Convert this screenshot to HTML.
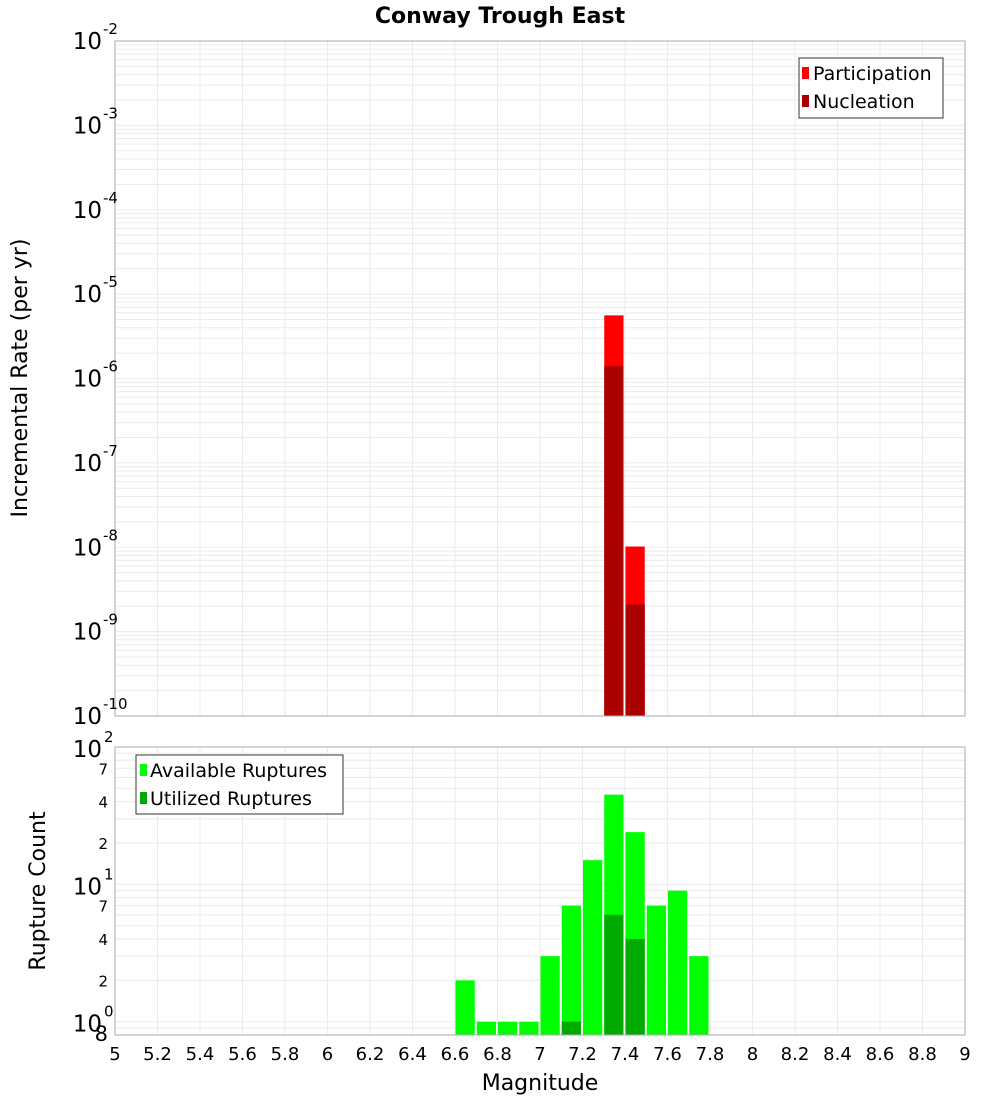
<!DOCTYPE html>
<html><head><meta charset="utf-8"><style>
body{margin:0;background:#fff;}
svg{display:block;font-family:"DejaVu Sans","Liberation Sans",sans-serif;}
</style></head><body>
<svg id="chart" width="1000" height="1100" xmlns="http://www.w3.org/2000/svg">
<text x="500" y="23" text-anchor="middle" font-size="22" font-weight="bold">Conway Trough East</text>
<text transform="translate(27,378) rotate(-90)" text-anchor="middle" font-size="22">Incremental Rate (per yr)</text>
<text transform="translate(45,891) rotate(-90)" text-anchor="middle" font-size="22">Rupture Count</text>
<text x="540" y="1090" text-anchor="middle" font-size="22">Magnitude</text>
<g id="grid"></g><g id="bars"></g><g id="axes"></g>
<g>
<rect x="799" y="58" width="144" height="60" fill="#fff" stroke="#333"/>
<rect x="802" y="67" width="7" height="12" fill="#ff0000"/>
<text x="813" y="80" font-size="19">Participation</text>
<rect x="802" y="95" width="7" height="12" fill="#aa0000"/>
<text x="813" y="108" font-size="19">Nucleation</text>
</g>
<g>
<rect x="136" y="755" width="207" height="59" fill="#fff" stroke="#333"/>
<rect x="140" y="764" width="7" height="12" fill="#00ff00"/>
<text x="150" y="777" font-size="19">Available Ruptures</text>
<rect x="140" y="792" width="7" height="12" fill="#00aa00"/>
<text x="150" y="805" font-size="19">Utilized Ruptures</text>
</g>
</svg>
<script>
const xTicks=[5,5.2,5.4,5.6,5.8,6,6.2,6.4,6.6,6.8,7,7.2,7.4,7.6,7.8,8,8.2,8.4,8.6,8.8,9];
const rateMags=[7.3,7.4];
const participation=[5.6e-6,1.02e-8];
const nucleation=[1.4e-6,2.1e-9];
const countMags=[6.6,6.7,6.8,6.9,7.0,7.1,7.2,7.3,7.4,7.5,7.6,7.7];
const available=[2,1,1,1,3,7,15,45,24,7,9,3];
const utilized=[0,0,0,0,0,1,0,6,4,0,0,0];
const topExps=[-2,-3,-4,-5,-6,-7,-8,-9,-10];
const botExps=[2,1,0];
const botMinor=[7,4,2];

const NS="http://www.w3.org/2000/svg";
const L=115,R=965,T1=41,B1=716,T2=747,B2=1035;
const xs=m=>L+(m-5)/4*(R-L);
const y1=v=>T1+(-2-Math.log10(v))/8*(B1-T1);
const yb=v=>T2+(2-Math.log10(v))/(2-Math.log10(0.8))*(B2-T2);
function mk(p,tag,a,txt){const e=document.createElementNS(NS,tag);for(const k in a)e.setAttribute(k,a[k]);if(txt!==undefined)e.textContent=txt;p.appendChild(e);return e;}
const grid=document.getElementById('grid'),bars=document.getElementById('bars'),axes=document.getElementById('axes');
mk(grid,'rect',{x:L,y:T1,width:R-L,height:B1-T1,fill:'#fff'});
// top grid
for(let e=-10;e<-2;e++)for(let k=1;k<10;k++){const y=y1(k*Math.pow(10,e));const g=mk(grid,'line',{x1:L,x2:R,y1:y,y2:y,stroke:'#ebebeb','stroke-width':1});

}
for(const t of xTicks){const x=xs(t);const g=mk(grid,'line',{x1:x,x2:x,y1:T1,y2:B1,stroke:'#ebebeb'});


const g2=mk(grid,'line',{x1:x,x2:x,y1:T2,y2:B2,stroke:'#ebebeb'});

}
for(let e=-1;e<2;e++)for(let k=1;k<10;k++){const v=k*Math.pow(10,e);if(v<0.8||v>100)continue;const y=yb(v);const g=mk(grid,'line',{x1:L,x2:R,y1:y,y2:y,stroke:'#ebebeb'});

}
// top bars
rateMags.forEach((m,i)=>{const x=xs(m)+0.5,w=xs(m+0.1)-xs(m)-2;
const b=mk(bars,'rect',{x:x,y:y1(participation[i]),width:w,height:B1-y1(participation[i]),fill:'#ff0000'});


const n=mk(bars,'rect',{x:x,y:y1(nucleation[i]),width:w,height:B1-y1(nucleation[i]),fill:'#aa0000'});

});
countMags.forEach((m,i)=>{const x=xs(m)+0.5,w=xs(m+0.1)-xs(m)-2;
const b=mk(bars,'rect',{x:x,y:yb(available[i]),width:w,height:B2-yb(available[i]),fill:'#00ff00'});


if(utilized[i]>0){const u=mk(bars,'rect',{x:x,y:yb(utilized[i]),width:w,height:B2-yb(utilized[i]),fill:'#00aa00'});

}});
mk(axes,'rect',{x:L,y:T1,width:R-L,height:B1-T1,fill:'none',stroke:'#aaa'});
mk(axes,'rect',{x:L,y:T2,width:R-L,height:B2-T2,fill:'none',stroke:'#aaa'});
// top y labels
topExps.forEach(e=>{const y=y1(Math.pow(10,e));const t=mk(axes,'text',{x:102,y:y+8,'text-anchor':'end','font-size':23},'10');


const s=mk(axes,'text',{x:103,y:y-7,'font-size':15},String(e));

});
botExps.forEach(e=>{const y=yb(Math.pow(10,e));const t=mk(axes,'text',{x:102,y:y+10,'text-anchor':'end','font-size':23},'10');


const s=mk(axes,'text',{x:104,y:y-5,'font-size':15},String(e));

});
for(let e=0;e<2;e++)botMinor.forEach(k=>{const y=yb(k*Math.pow(10,e));const t=mk(axes,'text',{x:108,y:y+6,'text-anchor':'end','font-size':15},String(k));

});
{const t=mk(axes,'text',{x:108,y:1041,'text-anchor':'end','font-size':21},'8');

}
xTicks.forEach(v=>{const t=mk(axes,'text',{x:xs(v),y:1060,'text-anchor':'middle','font-size':18},String(v));

});
</script>
</body></html>
